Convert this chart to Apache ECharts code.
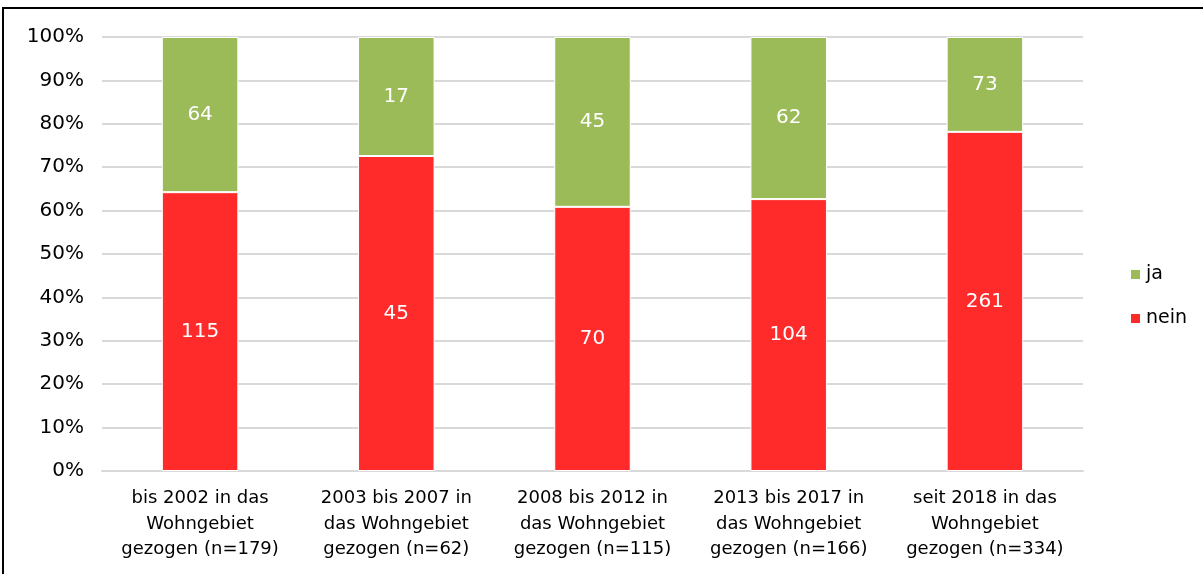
<!DOCTYPE html>
<html>
<head>
<meta charset="utf-8">
<script src="https://cdn.jsdelivr.net/npm/echarts@6/dist/echarts.min.js"></script>
<style>
  html, body { margin: 0; padding: 0; background: #fff; }
  #main { width: 1203px; height: 574px; }
</style>
</head>
<body>
<div id="main"></div>
<script>
// Kategorien
var categories = [
  'bis 2002 in das\nWohngebiet\ngezogen (n=179)',
  '2003 bis 2007 in\ndas Wohngebiet\ngezogen (n=62)',
  '2008 bis 2012 in\ndas Wohngebiet\ngezogen (n=115)',
  '2013 bis 2017 in\ndas Wohngebiet\ngezogen (n=166)',
  'seit 2018 in das\nWohngebiet\ngezogen (n=334)'
];
// Anzahl
var jaCounts = [64, 17, 45, 62, 73];
var neinCounts = [115, 45, 70, 104, 261];
var yTicks = [0, 10, 20, 30, 40, 50, 60, 70, 80, 90, 100];

var fontFam = '"DejaVu Sans", sans-serif';

function pct(arr, i) {
  var total = jaCounts[i] + neinCounts[i];
  return arr[i] / total * 100;
}

var jaData = jaCounts.map(function (v, i) {
  return { value: pct(jaCounts, i), count: v };
});
var neinData = neinCounts.map(function (v, i) {
  return { value: pct(neinCounts, i), count: v };
});

var myChart = echarts.init(document.getElementById('main'));

var labelOpt = {
  show: true,
  position: 'inside',
  color: '#fff',
  fontSize: 20,
  fontFamily: fontFam,
  formatter: function (p) { return p.data.count; }
};

var option = {
  animation: false,
  textStyle: { fontFamily: fontFam },
  graphic: [{
    type: 'rect',
    shape: { x: 3, y: 8, width: 1250, height: 620 },
    style: { fill: 'none', stroke: '#000', lineWidth: 2 },
    silent: true
  }],
  legend: {
    orient: 'vertical',
    left: 1124,
    top: 260,
    itemWidth: 11,
    itemHeight: 11,
    itemGap: 25,
    icon: 'rect',
    data: ['ja', 'nein'],
    textStyle: { fontSize: 19, color: '#000', fontFamily: fontFam }
  },
  grid: { left: 102, right: 120, top: 37, bottom: 103 },
  xAxis: {
    type: 'category',
    data: categories,
    axisTick: { show: false },
    axisLine: { lineStyle: { color: '#d9d9d9', width: 2 } },
    axisLabel: {
      color: '#000',
      fontSize: 18,
      lineHeight: 25.5,
      margin: 15,
      interval: 0,
      fontFamily: fontFam
    }
  },
  yAxis: {
    type: 'value',
    min: yTicks[0],
    max: yTicks[yTicks.length - 1],
    interval: 10,
    axisLine: { show: false },
    axisTick: { show: false },
    splitLine: { lineStyle: { color: '#d9d9d9', width: 2 } },
    axisLabel: {
      color: '#000',
      fontSize: 20,
      margin: 18,
      fontFamily: fontFam,
      formatter: '{value}%'
    }
  },
  series: [{
    name: 'nein',
    type: 'bar',
    stack: 'total',
    barWidth: '39%',
    itemStyle: { color: '#ff2b2b', borderColor: '#fff', borderWidth: 1 },
    label: labelOpt,
    data: neinData
  }, {
    name: 'ja',
    type: 'bar',
    stack: 'total',
    barWidth: '39%',
    itemStyle: { color: '#9bbb59', borderColor: '#fff', borderWidth: 1 },
    label: labelOpt,
    data: jaData
  }]
};

myChart.setOption(option);
</script>
</body>
</html>
